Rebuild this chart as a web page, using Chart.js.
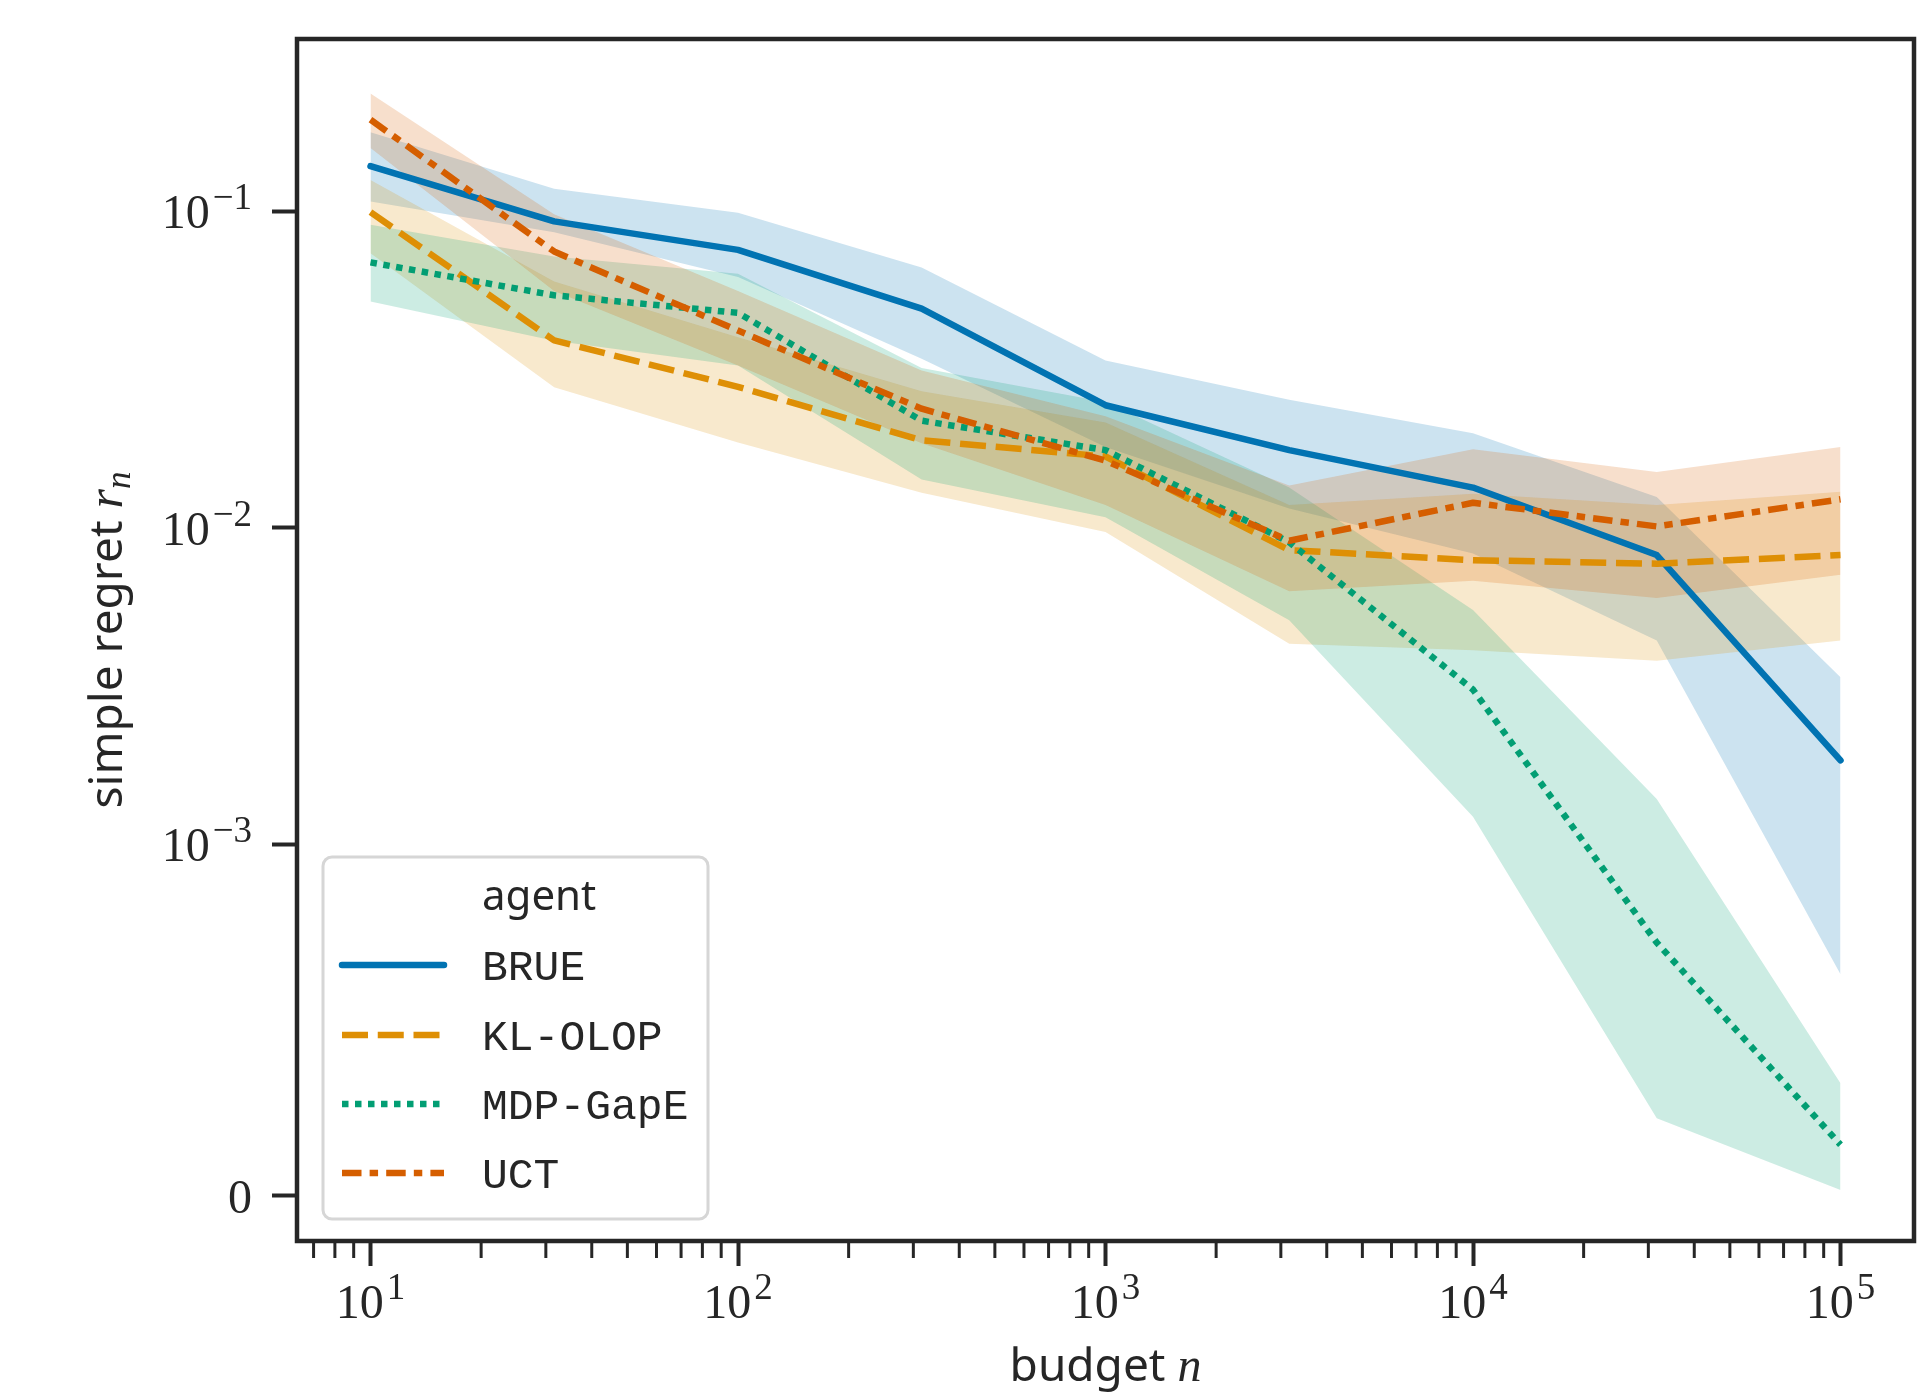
<!DOCTYPE html>
<html>
<head>
<meta charset="utf-8">
<script src="https://cdn.jsdelivr.net/npm/chart.js@4.4.0/dist/chart.umd.min.js"></script>
<style>
  html, body { margin: 0; padding: 0; background: #fff; }
  canvas { display: block; }
</style>
</head>
<body>
<canvas id="chart" width="1923" height="1392"></canvas>
<script>
// budgets n (half decades) and simple regret per agent
const budgets = [10, 31.6, 100, 316, 1000, 3162, 10000, 31623, 100000];
const agents = ['BRUE', 'KL-OLOP', 'MDP-GapE', 'UCT'];

const brueMean = [0.139, 0.093, 0.0756, 0.0493, 0.0244, 0.0176, 0.0134, 0.0082, 0.00184];
const brueLow  = [0.1075, 0.086, 0.062, 0.0342, 0.018, 0.0115, 0.0083, 0.0044, 0.00063];
const brueHigh = [0.178, 0.118, 0.099, 0.0665, 0.0338, 0.0254, 0.0199, 0.0125, 0.00337];

const klMean = [0.0995, 0.0391, 0.0279, 0.0189, 0.0168, 0.0085, 0.0079, 0.0077, 0.0082];
const klLow  = [0.0737, 0.0278, 0.0186, 0.0129, 0.0097, 0.0043, 0.0041, 0.0038, 0.0044];
const klHigh = [0.1256, 0.06, 0.04, 0.027, 0.0215, 0.0118, 0.0128, 0.0118, 0.013];

const gapeMean = [0.069, 0.0543, 0.0478, 0.0218, 0.0176, 0.009, 0.00308, 0.00072, 0.000145];
const gapeLow  = [0.0519, 0.039, 0.0326, 0.0142, 0.0108, 0.0051, 0.00122, 0.00022, 0.000016];
const gapeHigh = [0.0907, 0.072, 0.0635, 0.032, 0.025, 0.0134, 0.0055, 0.00139, 0.00032];

const uctMean = [0.195, 0.0747, 0.042, 0.0238, 0.0163, 0.0091, 0.012, 0.0101, 0.0123];
const uctLow  = [0.1585, 0.056, 0.0326, 0.0185, 0.0118, 0.0063, 0.0068, 0.006, 0.0071];
const uctHigh = [0.236, 0.098, 0.056, 0.0314, 0.0225, 0.0136, 0.0177, 0.015, 0.018];

// tick labels as [base, exponent]
const xTicks = [10, 100, 1000, 10000, 100000];
const xTickLabels = [['10', '1'], ['10', '2'], ['10', '3'], ['10', '4'], ['10', '5']];
const yTicks = [0, 0.001, 0.01, 0.1];
const yTickLabels = [['0', ''], ['10', '\u22123'], ['10', '\u22122'], ['10', '\u22121']];

const colors = [[1, 115, 178], [222, 143, 5], [2, 158, 115], [213, 94, 0]];
const LW = 6.5;
const dashes = [[], [4 * LW, 1.5 * LW], [LW, LW], [3 * LW, 1.25 * LW, 1.3 * LW, 1.25 * LW]];
const ink = '#262626';
const tickFont = '48px "Liberation Serif"';
const expFont = '37px "Liberation Serif"';

// symlog transform, linthresh 1e-3, linscale 1 (same as matplotlib)
const LINTHRESH = 1e-3;
const LINSCALE = 1 / (1 - 1 / 10);
function symlog(v) {
  const a = Math.abs(v);
  const t = a <= LINTHRESH ? a / LINTHRESH * LINSCALE : LINSCALE + Math.log10(a / LINTHRESH);
  return v < 0 ? -t : t;
}
function symexp(t) {
  const a = Math.abs(t);
  const v = a <= LINSCALE ? a / LINSCALE * LINTHRESH : LINTHRESH * Math.pow(10, a - LINSCALE);
  return t < 0 ? -v : v;
}

class SymlogScale extends Chart.Scale {
  determineDataLimits() {
    this.min = this.options.min;
    this.max = this.options.max;
  }
  buildTicks() {
    return [];
  }
  getLabelForValue(v) {
    return String(v);
  }
  getPixelForValue(v) {
    const t0 = symlog(this.min), t1 = symlog(this.max);
    return this.getPixelForDecimal((symlog(v) - t0) / (t1 - t0));
  }
  getValueForPixel(p) {
    const t0 = symlog(this.min), t1 = symlog(this.max);
    return symexp(t0 + this.getDecimalForPixel(p) * (t1 - t0));
  }
}
SymlogScale.id = 'symlog';
SymlogScale.defaults = {};
Chart.register(SymlogScale);

const rgba = (c, a) => 'rgba(' + c[0] + ',' + c[1] + ',' + c[2] + ',' + a + ')';
const pts = arr => arr.map((y, i) => ({ x: budgets[i], y: y }));

const series = [
  { mean: brueMean, low: brueLow, high: brueHigh },
  { mean: klMean, low: klLow, high: klHigh },
  { mean: gapeMean, low: gapeLow, high: gapeHigh },
  { mean: uctMean, low: uctLow, high: uctHigh }
];

const datasets = [];
series.forEach((s, k) => {
  datasets.push({
    label: agents[k] + ' high', data: pts(s.high),
    borderWidth: 0, borderColor: 'transparent', pointRadius: 0, fill: false, order: 10 - k
  });
  datasets.push({
    label: agents[k] + ' low', data: pts(s.low),
    borderWidth: 0, borderColor: 'transparent', pointRadius: 0,
    fill: '-1', backgroundColor: rgba(colors[k], 0.2), order: 10 - k
  });
});
series.forEach((s, k) => {
  datasets.push({
    label: agents[k], data: pts(s.mean),
    borderColor: rgba(colors[k], 1), borderWidth: LW, borderDash: dashes[k],
    borderCapStyle: k === 0 ? 'round' : 'butt', borderJoinStyle: 'round',
    pointRadius: 0, fill: false, tension: 0, order: -k
  });
});

function drawMixed(ctx, parts, x, y) {
  // parts: [text, font, dy]; centred on x
  let w = 0;
  parts.forEach(p => { ctx.font = p[1]; w += ctx.measureText(p[0]).width; });
  let cx = x - w / 2;
  parts.forEach(p => {
    ctx.font = p[1];
    ctx.fillText(p[0], cx, y + (p[2] || 0));
    cx += ctx.measureText(p[0]).width;
  });
}

function labelWidth(ctx, lab) {
  ctx.font = tickFont;
  let w = ctx.measureText(lab[0]).width;
  if (lab[1]) { ctx.font = expFont; w += 3 + ctx.measureText(lab[1]).width; }
  return w;
}

function drawLabel(ctx, lab, left, baseline) {
  ctx.font = tickFont;
  ctx.fillText(lab[0], left, baseline);
  if (lab[1]) {
    const w = ctx.measureText(lab[0]).width;
    ctx.font = expFont;
    ctx.fillText(lab[1], left + w + 3, baseline - 19);
  }
}

const decorations = {
  id: 'decorations',
  afterDraw(chart) {
    const ctx = chart.ctx, a = chart.chartArea, xs = chart.scales.x, ys = chart.scales.y;
    ctx.save();
    ctx.strokeStyle = ink;
    ctx.fillStyle = ink;
    ctx.textAlign = 'left';
    ctx.textBaseline = 'alphabetic';

    // minor ticks on the log axis
    ctx.lineWidth = 3;
    for (let e = 0; e <= 5; e++) {
      for (let m = 2; m <= 9; m++) {
        const v = m * Math.pow(10, e);
        if (v < xs.min || v > xs.max) continue;
        const px = xs.getPixelForValue(v);
        ctx.beginPath();
        ctx.moveTo(px, a.bottom);
        ctx.lineTo(px, a.bottom + 17);
        ctx.stroke();
      }
    }

    // frame
    ctx.lineWidth = 4.5;
    ctx.strokeRect(a.left, a.top, a.right - a.left, a.bottom - a.top);

    // tick labels, placed from the scales
    xTicks.forEach((v, i) => {
      const px = xs.getPixelForValue(v);
      const w = labelWidth(ctx, xTickLabels[i]);
      drawLabel(ctx, xTickLabels[i], px - w / 2, a.bottom + 77);
    });
    yTicks.forEach((v, i) => {
      const py = ys.getPixelForValue(v);
      const w = labelWidth(ctx, yTickLabels[i]);
      drawLabel(ctx, yTickLabels[i], 252 - w, py + 17);
    });

    // axis titles
    drawMixed(ctx, [
      ['budget ', '46px "Noto Sans"'],
      ['n', 'italic 48px "Liberation Serif"']
    ], (a.left + a.right) / 2, 1381);

    ctx.save();
    ctx.translate(122, (a.top + a.bottom) / 2);
    ctx.rotate(-Math.PI / 2);
    drawMixed(ctx, [
      ['simple regret ', '46px "Noto Sans"'],
      ['r', 'italic 50px "Liberation Serif"'],
      ['n', 'italic 35px "Liberation Serif"', 8]
    ], 0, 0);
    ctx.restore();

    // legend
    const bx = 323, by = 857, bw = 385, bh = 362;
    ctx.beginPath();
    ctx.roundRect(bx, by, bw, bh, 9);
    ctx.fillStyle = 'rgba(255,255,255,0.8)';
    ctx.fill();
    ctx.lineWidth = 3;
    ctx.strokeStyle = '#d6d6d6';
    ctx.stroke();

    ctx.fillStyle = ink;
    ctx.font = '42px "Noto Sans"';
    ctx.fillText('agent', 482, 910);
    const baselines = [980, 1050, 1119, 1188];
    agents.forEach((name, k) => {
      const yl = baselines[k] - 15;
      ctx.beginPath();
      ctx.setLineDash(dashes[k]);
      ctx.lineCap = k === 0 ? 'round' : 'butt';
      ctx.lineWidth = LW;
      ctx.strokeStyle = rgba(colors[k], 1);
      ctx.moveTo(342, yl);
      ctx.lineTo(444, yl);
      ctx.stroke();
      ctx.setLineDash([]);
      ctx.font = '43px "Liberation Mono"';
      ctx.fillText(name, 482, baselines[k]);
    });
    ctx.restore();
  }
};

new Chart(document.getElementById('chart'), {
  type: 'line',
  data: { datasets: datasets },
  options: {
    responsive: false,
    animation: false,
    devicePixelRatio: 1,
    layout: { padding: { top: 39, right: 9, left: 0, bottom: 0 } },
    plugins: {
      legend: { display: false },
      tooltip: { enabled: false }
    },
    scales: {
      x: {
        type: 'logarithmic',
        position: 'bottom',
        min: Math.pow(10, 0.8),
        max: Math.pow(10, 5.2),
        afterBuildTicks: s => { s.ticks = xTicks.map(v => ({ value: v, major: true })); },
        afterFit: s => { s.height = 151; },
        border: { display: false },
        grid: { display: true, drawOnChartArea: false, drawTicks: true, tickLength: 25, tickWidth: 4, tickColor: ink },
        ticks: { display: false }
      },
      y: {
        type: 'symlog',
        position: 'left',
        min: -1.289e-4,
        max: 0.3507,
        afterBuildTicks: s => { s.ticks = yTicks.map(v => ({ value: v })); },
        afterFit: s => { s.width = 297; },
        border: { display: false },
        grid: { display: true, drawOnChartArea: false, drawTicks: true, tickLength: 25, tickWidth: 4, tickColor: ink },
        ticks: { display: false }
      }
    }
  },
  plugins: [decorations]
});
</script>
</body>
</html>
